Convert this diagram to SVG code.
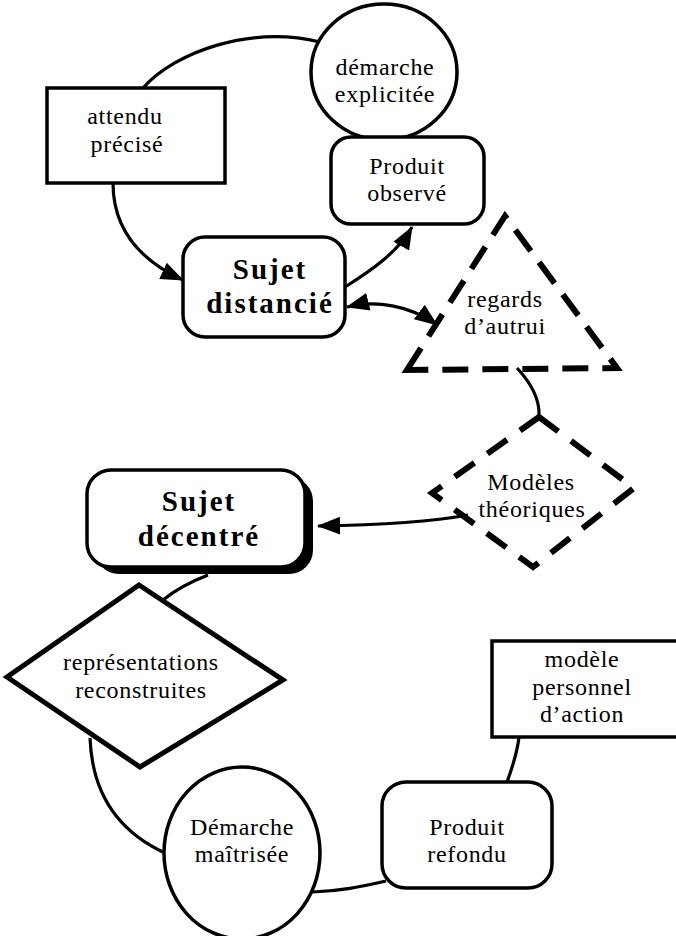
<svg xmlns="http://www.w3.org/2000/svg" width="676" height="936" viewBox="0 0 676 936">
<defs>
<style>
.shape{fill:#fff;stroke:#000;stroke-width:3.5}
.dash{fill:none;stroke:#000;stroke-width:6;stroke-dasharray:26 14}
.con{fill:none;stroke:#000;stroke-width:3.2}
.t{font-family:"Liberation Serif","Times New Roman",serif;font-size:24px;letter-spacing:0.7px;text-anchor:middle;fill:#000}
.b{font-family:"Liberation Serif","Times New Roman",serif;font-size:29px;letter-spacing:2px;font-weight:bold;text-anchor:middle;fill:#000}
</style>
<marker id="ah" markerUnits="userSpaceOnUse" markerWidth="24" markerHeight="20" viewBox="0 0 24 20" refX="22" refY="10" orient="auto-start-reverse">
<path d="M0,1 L23,10 L0,19 Z" fill="#000"/>
</marker>
</defs>
<rect width="676" height="936" fill="#fff"/>
<g id="connectors">
<path class="con" d="M143 88 C175 52 250 25 320 42"/>
<path class="con" d="M113 183 C113 225 135 258 183 280" marker-end="url(#ah)"/>
<path class="con" d="M345 287 C372 270 398 252 412 227" marker-end="url(#ah)"/>
<path class="con" d="M347 307 C375 300 410 305 437 325" marker-start="url(#ah)" marker-end="url(#ah)"/>
<path class="con" d="M517 368 C530 382 540 398 539 416"/>
<path class="con" d="M468 515 C430 522 380 525 318 526" marker-end="url(#ah)"/>
<path class="con" d="M208 575 C190 582 175 590 163 600"/>
<path class="con" d="M90 738 C92 790 115 830 165 853"/>
<path class="con" d="M386 881 C360 887 340 891 313 892"/>
<path class="con" d="M519 737 C517 755 512 768 507 782"/>
</g>
<g id="attendu">
<rect class="shape" x="47" y="88" width="178" height="95"/>
<text class="t" x="125" y="124">attendu</text>
<text class="t" x="127" y="152">précisé</text>
</g>
<g id="demarche-explicitee">
<ellipse class="shape" cx="384" cy="72" rx="73" ry="68"/>
<text class="t" x="385" y="75">démarche</text>
<text class="t" x="385" y="102">explicitée</text>
</g>
<g id="produit-observe">
<rect class="shape" x="331" y="137" width="153" height="87" rx="20"/>
<text class="t" x="407" y="174">Produit</text>
<text class="t" x="407" y="201">observé</text>
</g>
<g id="sujet-distancie">
<rect class="shape" x="183" y="237" width="162" height="100" rx="22"/>
<text class="b" x="270" y="279">Sujet</text>
<text class="b" x="270" y="313">distancié</text>
</g>
<g id="regards">
<path class="dash" d="M407 370 L505 216 L617 368 Z"/>
<text class="t" x="505" y="307">regards</text>
<text class="t" x="505" y="334">d’autrui</text>
</g>
<g id="modeles">
<path class="dash" d="M539 417 L634 488 L533 567 L432 493 Z" style="stroke-dasharray:24 16"/>
<text class="t" x="531" y="490">Modèles</text>
<text class="t" x="532" y="517">théoriques</text>
</g>
<g id="sujet-decentre">
<rect x="95" y="477" width="218" height="97" rx="24" fill="#000"/>
<rect class="shape" x="87" y="470" width="218" height="97" rx="24"/>
<text class="b" x="199" y="511">Sujet</text>
<text class="b" x="199" y="546">décentré</text>
</g>
<g id="representations">
<path class="shape" d="M139 585 L283 680 L140 767 L7 677 Z" style="stroke-width:5"/>
<text class="t" x="141" y="670">représentations</text>
<text class="t" x="141" y="698">reconstruites</text>
</g>
<g id="demarche-maitrisee">
<ellipse class="shape" cx="242" cy="853" rx="78" ry="86"/>
<text class="t" x="242" y="835">Démarche</text>
<text class="t" x="242" y="862">maîtrisée</text>
</g>
<g id="produit-refondu">
<rect class="shape" x="382" y="782" width="170" height="106" rx="24"/>
<text class="t" x="467" y="835">Produit</text>
<text class="t" x="467" y="862">refondu</text>
</g>
<g id="modele-personnel">
<rect class="shape" x="492" y="641" width="190" height="96"/>
<text class="t" x="582" y="667">modèle</text>
<text class="t" x="582" y="695">personnel</text>
<text class="t" x="582" y="722">d’action</text>
</g>
</svg>
